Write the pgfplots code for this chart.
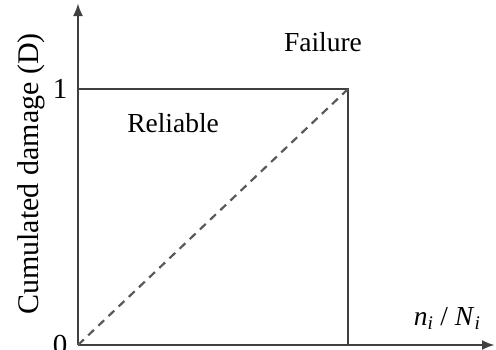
\documentclass[border=0pt]{standalone}
\usepackage{fontspec}
\setmainfont{Liberation Serif}
\usepackage{pgfplots}
\pgfplotsset{compat=1.18}
\usetikzlibrary{arrows.meta}
\begin{document}
\begin{tikzpicture}[font=\fontsize{27.5}{32}\selectfont]
\begin{axis}[
    at={(0pt,0pt)},
    anchor=south west,
    width=417pt,
    height=342pt,
    scale only axis,
    axis lines=left,
    axis line style={line width=2.6pt, black!75},
    every outer x axis line/.append style={-{Latex[length=13pt,width=10pt]}},
    every outer y axis line/.append style={-{Latex[length=13pt,width=10pt]}},
    xmin=0, xmax=1.544,
    ymin=0, ymax=1.336,
    xtick=\empty,
    ytick={0,1},
    major tick length=0pt,
    /pgf/number format/assume math mode=true,
    yticklabel style={anchor=east, xshift=-7pt, font=\fontsize{29}{32}\selectfont},
    ylabel={Cumulated damage (D)},
    ylabel style={at={(axis description cs:-0.113,0.5)}, anchor=center, rotate=0,
        font=\fontsize{30}{34}\selectfont},
    clip=false,
]
\addplot[black!75, line width=2.6pt] coordinates {(0,1) (1,1) (1,0)};
\addplot[black!65, line width=2.2pt, dash pattern=on 8pt off 6pt] coordinates {(0,0) (1,1)};
\node at (axis cs:0.907,1.184) {Failure};
\node at (axis cs:0.352,0.867) {Reliable};
\node at (axis cs:1.367,0.105) {\textit{n}\textsubscript{\textit{i}} / \textit{N}\textsubscript{\textit{i}}};
\end{axis}
\pgfresetboundingbox
\path (-78pt,-4pt) rectangle (418pt,345pt);
\end{tikzpicture}
\end{document}
